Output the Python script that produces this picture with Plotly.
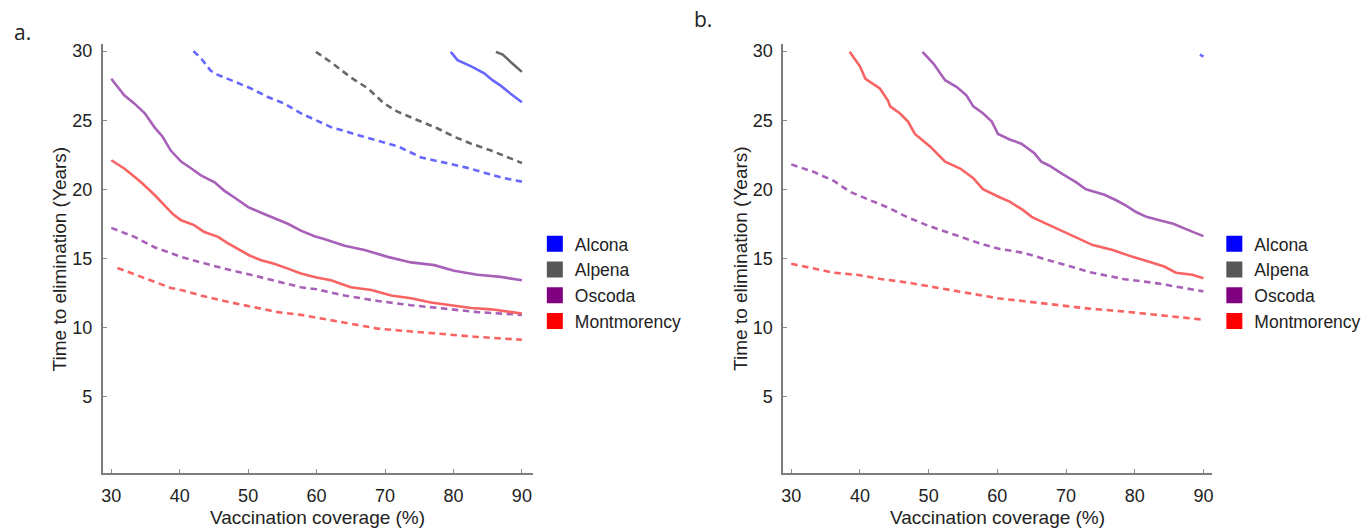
import plotly.graph_objects as go

# ---------------- data ----------------
# Panel a
a_oscoda_solid_x = [30, 31.9, 33.4, 34.9, 36.3, 37.5, 38.7, 40.2, 41.7, 43.1, 45.1, 46.5, 48, 50, 51.9, 53.8, 55.8, 57.7, 59.7, 61.1, 64.1, 67, 70.4, 73.8, 77.2, 80.1, 83.5, 86.9, 90]
a_oscoda_solid_y = [28.0, 26.8, 26.2, 25.5, 24.5, 23.8, 22.8, 22.0, 21.5, 21.0, 20.5, 19.9, 19.4, 18.7, 18.3, 17.9, 17.5, 17.0, 16.6, 16.4, 15.9, 15.6, 15.1, 14.7, 14.5, 14.1, 13.8, 13.65, 13.4]

a_mont_solid_x = [30, 31.9, 33.4, 34.6, 36.3, 37.8, 39, 40.2, 42.1, 43.6, 45.6, 47, 48.5, 50.2, 51.9, 53.8, 55.8, 57.7, 60, 62.1, 65, 68, 70.9, 73.8, 76.7, 79.6, 82.6, 85.5, 88.4, 90]
a_mont_solid_y = [22.1, 21.5, 20.9, 20.4, 19.6, 18.8, 18.2, 17.75, 17.4, 16.9, 16.55, 16.1, 15.7, 15.2, 14.85, 14.6, 14.25, 13.9, 13.6, 13.4, 12.9, 12.7, 12.3, 12.1, 11.8, 11.6, 11.4, 11.3, 11.1, 11.0]

a_oscoda_dash_x = [30, 33.4, 36.3, 40.2, 43.1, 46.5, 50.4, 54.3, 57.7, 60, 64.1, 69, 73.8, 78.7, 83.5, 90]
a_oscoda_dash_y = [17.2, 16.55, 15.8, 15.1, 14.7, 14.25, 13.8, 13.3, 12.9, 12.75, 12.3, 11.9, 11.6, 11.35, 11.1, 10.9]

a_mont_dash_x = [30.9, 33.4, 36.3, 38.7, 40.2, 43.1, 46.5, 50.4, 54.3, 57.7, 60, 64.1, 69, 73.8, 78.7, 83.5, 90]
a_mont_dash_y = [14.3, 13.85, 13.3, 12.85, 12.7, 12.3, 11.9, 11.5, 11.1, 10.9, 10.7, 10.3, 9.9, 9.7, 9.5, 9.3, 9.1]

a_alcona_dash_x = [42, 43.1, 44.5, 45.5, 48, 50.4, 52.8, 55.3, 57.7, 60, 62.1, 65.5, 68.9, 71.9, 75.3, 78.7, 81.6, 84.5, 87.4, 90]
a_alcona_dash_y = [30, 29.5, 28.6, 28.3, 27.8, 27.3, 26.7, 26.2, 25.5, 24.95, 24.5, 24.0, 23.55, 23.1, 22.3, 21.9, 21.6, 21.2, 20.8, 20.55]

a_alpena_dash_x = [59.9, 62.1, 65, 67.5, 69.9, 71.9, 74.8, 77.7, 80.1, 82.6, 85.5, 87.9, 90]
a_alpena_dash_y = [29.95, 29.2, 28.1, 27.3, 26.2, 25.6, 25.0, 24.4, 23.8, 23.3, 22.8, 22.3, 21.9]

a_alcona_solid_x = [79.6, 80.6, 82.6, 84.5, 85.7, 86.9, 88.4, 90]
a_alcona_solid_y = [29.95, 29.35, 28.9, 28.4, 27.9, 27.5, 26.9, 26.3]

a_alpena_solid_x = [86.2, 87.2, 88.4, 90]
a_alpena_solid_y = [29.95, 29.75, 29.2, 28.5]

# Panel b
b_mont_solid_x = [38.5, 40.0, 40.8, 42.9, 44.1, 44.4, 45.8, 47.0, 48.0, 50.2, 52.4, 54.6, 56.5, 57.9, 60.4, 61.8, 63.7, 65, 66.7, 68.6, 71, 73.9, 76.8, 79.7, 82.1, 84.3, 86, 88.4, 90]
b_mont_solid_y = [29.95, 28.9, 28.0, 27.3, 26.4, 26.0, 25.5, 24.9, 24.0, 23.1, 22.0, 21.5, 20.8, 20.0, 19.4, 19.1, 18.5, 18.0, 17.6, 17.15, 16.6, 15.95, 15.6, 15.1, 14.75, 14.4, 13.95, 13.8, 13.55]

b_oscoda_solid_x = [49.1, 50.7, 52.4, 54.1, 55.5, 56.5, 57.9, 59.2, 60.1, 61.8, 63.5, 65.4, 66.4, 67.6, 69.5, 71.5, 72.9, 75.6, 77.3, 78.8, 80.2, 81.7, 83.6, 85.6, 88, 90]
b_oscoda_solid_y = [29.95, 29.1, 27.9, 27.4, 26.8, 26.0, 25.5, 24.9, 24.0, 23.6, 23.3, 22.6, 22.0, 21.7, 21.1, 20.5, 20.0, 19.6, 19.2, 18.8, 18.35, 18.0, 17.75, 17.5, 17.0, 16.6]

b_oscoda_dash_x = [30, 33.3, 36.2, 38.6, 41.5, 44.4, 46.8, 49.7, 52.6, 55.5, 57.9, 60.1, 63.7, 68.6, 73.4, 78.3, 83.1, 90]
b_oscoda_dash_y = [21.8, 21.25, 20.6, 19.8, 19.2, 18.6, 18.0, 17.4, 16.9, 16.4, 16.0, 15.7, 15.4, 14.7, 14.0, 13.5, 13.2, 12.6]

b_mont_dash_x = [30, 33.3, 36.2, 39.6, 43, 46.8, 50.7, 54.6, 57.5, 60.1, 63.7, 68.6, 73.4, 78.3, 83.1, 90]
b_mont_dash_y = [14.6, 14.25, 13.95, 13.8, 13.5, 13.25, 12.9, 12.55, 12.3, 12.1, 11.9, 11.6, 11.35, 11.15, 10.9, 10.55]

b_alcona_x = [89.5, 90]
b_alcona_y = [29.75, 29.6]

counties = ["Alcona", "Alpena", "Oscoda", "Montmorency"]
legend_colors = ["#0000FF", "#575757", "#800080", "#FF0000"]
line_colors = {"Alcona": "#6767FF", "Alpena": "#686868", "Oscoda": "#A861B8", "Montmorency": "#F86464"}

x_ticks = [30, 40, 50, 60, 70, 80, 90]
y_ticks = [5, 10, 15, 20, 25, 30]

# ---------------- figure ----------------
fig = go.Figure()
DASH = "6.5px,4.5px"
LW = 2.6

def add_line(x, y, county, dashed, xa, ya):
    fig.add_trace(go.Scatter(
        x=x, y=y, mode="lines", xaxis=xa, yaxis=ya, showlegend=False,
        line=dict(color=line_colors[county], width=LW, dash=DASH if dashed else "solid"),
        hoverinfo="skip"))

# panel a
add_line(a_alcona_dash_x, a_alcona_dash_y, "Alcona", True, "x", "y")
add_line(a_alpena_dash_x, a_alpena_dash_y, "Alpena", True, "x", "y")
add_line(a_oscoda_dash_x, a_oscoda_dash_y, "Oscoda", True, "x", "y")
add_line(a_mont_dash_x, a_mont_dash_y, "Montmorency", True, "x", "y")
add_line(a_alcona_solid_x, a_alcona_solid_y, "Alcona", False, "x", "y")
add_line(a_alpena_solid_x, a_alpena_solid_y, "Alpena", False, "x", "y")
add_line(a_oscoda_solid_x, a_oscoda_solid_y, "Oscoda", False, "x", "y")
add_line(a_mont_solid_x, a_mont_solid_y, "Montmorency", False, "x", "y")

# panel b
add_line(b_oscoda_dash_x, b_oscoda_dash_y, "Oscoda", True, "x2", "y2")
add_line(b_mont_dash_x, b_mont_dash_y, "Montmorency", True, "x2", "y2")
add_line(b_alcona_x, b_alcona_y, "Alcona", False, "x2", "y2")
add_line(b_oscoda_solid_x, b_oscoda_solid_y, "Oscoda", False, "x2", "y2")
add_line(b_mont_solid_x, b_mont_solid_y, "Montmorency", False, "x2", "y2")

# legend entries (square swatches)
for lg, xa, ya in [("legend", "x", "y"), ("legend2", "x2", "y2")]:
    for name, col in zip(counties, legend_colors):
        fig.add_trace(go.Scatter(
            x=[None], y=[None], mode="markers", name=name, legend=lg,
            xaxis=xa, yaxis=ya, showlegend=True,
            marker=dict(symbol="square", size=16, color=col, line=dict(width=0))))

W, H = 1369, 529
font_family = "Liberation Sans, Arial, sans-serif"
axis_common = dict(
    showgrid=False, zeroline=False, showline=True, linecolor="#7d7d7d", linewidth=2,
    ticks="inside", ticklen=4, tickwidth=1, tickcolor="#8a8a8a",
    tickfont=dict(family=font_family, size=18, color="#222222"),
    ticklabelstandoff=5, mirror=False)

ydom = [1 - 473 / H, 1 - 42 / H]
fig.update_layout(
    width=W, height=H,
    margin=dict(l=0, r=0, t=0, b=0),
    paper_bgcolor="white", plot_bgcolor="white",
    font=dict(family=font_family, color="#222222"),
    xaxis=dict(domain=[101 / W, 532 / W], range=[28.76, 91.6], tickvals=x_ticks, anchor="y", **axis_common),
    yaxis=dict(domain=ydom, range=[-0.57, 30.53], tickvals=y_ticks, anchor="x", **axis_common),
    xaxis2=dict(domain=[783 / W, 1213 / W], range=[28.84, 91.3], tickvals=x_ticks, anchor="y2", **axis_common),
    yaxis2=dict(domain=ydom, range=[-0.57, 30.53], tickvals=y_ticks, anchor="x2", **axis_common),
    legend=dict(x=(554 - 20) / W, xanchor="left", y=1 - 281.5 / H, yanchor="middle",
                font=dict(family=font_family, size=17.5, color="#222222"),
                bgcolor="rgba(0,0,0,0)", borderwidth=0, tracegroupgap=0),
    legend2=dict(x=(1235 - 20) / W, xanchor="left", y=1 - 281.5 / H, yanchor="middle",
                 font=dict(family=font_family, size=17.5, color="#222222"),
                 bgcolor="rgba(0,0,0,0)", borderwidth=0, tracegroupgap=0),
)

title_font = dict(family=font_family, size=19, color="#222222")
annotations = [
    dict(text="Vaccination coverage (%)", x=316.5 / W, y=1 - 517 / H, xref="paper", yref="paper",
         showarrow=False, font=title_font, xanchor="center", yanchor="middle"),
    dict(text="Vaccination coverage (%)", x=998 / W, y=1 - 517 / H, xref="paper", yref="paper",
         showarrow=False, font=title_font, xanchor="center", yanchor="middle"),
    dict(text="Time to elimination (Years)", x=58 / W, y=1 - 257.5 / H, xref="paper", yref="paper",
         showarrow=False, font=title_font, textangle=-90, xanchor="center", yanchor="middle"),
    dict(text="Time to elimination (Years)", x=740 / W, y=1 - 257.5 / H, xref="paper", yref="paper",
         showarrow=False, font=title_font, textangle=-90, xanchor="center", yanchor="middle"),
    dict(text="a.", x=10 / W, y=1 - 30 / H, xref="paper", yref="paper", showarrow=False,
         font=dict(family="Open Sans, sans-serif", size=21, color="#222222"), xanchor="left", yanchor="middle"),
    dict(text="b.", x=692 / W, y=1 - 17 / H, xref="paper", yref="paper", showarrow=False,
         font=dict(family="Open Sans, sans-serif", size=21, color="#222222"), xanchor="left", yanchor="middle"),
]
fig.update_layout(annotations=annotations)

fig.write_html("out.html",
               config={"displayModeBar": False},
               post_script="document.body.style.margin='0';document.body.style.overflow='hidden';")
